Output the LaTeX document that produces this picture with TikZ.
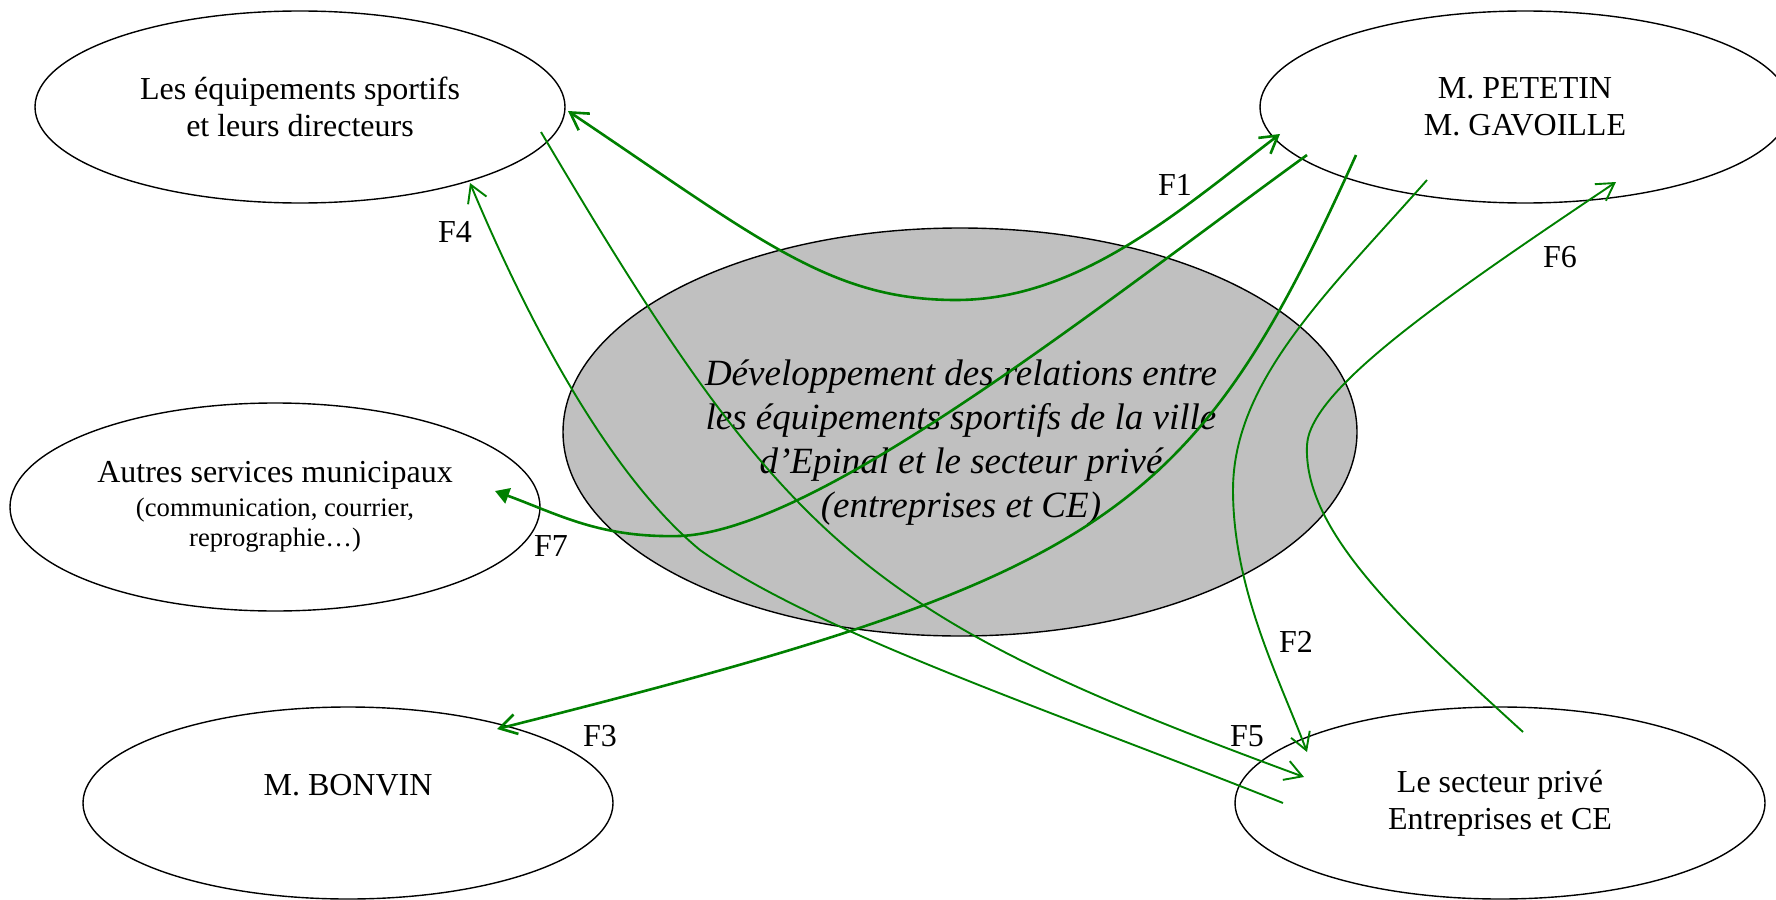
\documentclass[tikz,border=0pt]{standalone}
\usepackage{fontspec}
\setmainfont{Liberation Serif}
\usetikzlibrary{shapes.geometric,arrows.meta,calc}
\definecolor{flowgreen}{RGB}{0,128,0}
\definecolor{hubgray}{RGB}{192,192,192}
\newcommand{\smalltxt}{\fontsize{13.33}{15}\selectfont}
\begin{document}
\begin{tikzpicture}[x=0.5pt,y=-0.5pt,
  >={Straight Barb[length=8.5pt,width=10pt]},
  oval/.style={ellipse,draw=black,line width=0.7pt,inner sep=0pt,outer sep=0pt,
    minimum width=265pt,minimum height=96pt,align=center,
    font=\fontsize{16}{18.5}\selectfont},
  hubtext/.style={inner sep=0pt,align=center,font=\fontsize{18.5}{22}\selectfont\itshape},
  flow/.style={draw=flowgreen,line width=0.95pt},
  thickflow/.style={draw=flowgreen,line width=1.3pt},
  flabel/.style={inner sep=0pt,font=\fontsize{16}{18.5}\selectfont}
]
\useasboundingbox (0,0) rectangle (1776,899);

% ellipses
\node[oval] (e1) at (300,107) {Les équipements sportifs\\et leurs directeurs};
\node[oval] (e2) at (1525,107) {M. PETETIN\\M. GAVOILLE};
\node[oval,minimum height=104pt] (e3) at (275,507)
  {Autres services municipaux\\[-1.5pt]{\smalltxt (communication, courrier,}\\[-3.5pt]{\smalltxt reprographie…)}};
\node[oval] (e4) at (348,803) {M. BONVIN\\\mbox{}};
\node[oval] (e5) at (1500,803) {Le secteur privé\\Entreprises et CE};
\node[oval,fill=hubgray,minimum width=397pt,minimum height=204pt] (hub) at (960,432) {};
\node[hubtext] (hubt) at (961,443)
  {Développement des relations entre\\les équipements sportifs de la ville\\d’Epinal et le secteur privé\\(entreprises et CE)};

% connectors
% F1
\draw[thickflow,<->] ($(e1)+(268,4)$) .. controls (760,240) and (830,300) .. (956,300)
  .. controls (1080,300) and (1180,210) .. ($(e2)+(-245,27)$);
% F7
\draw[thickflow,-{Triangle[length=7pt,width=8pt]}] ($(e2)+(-218,48)$)
  .. controls (1100,305) and (820,530) .. (680,536)
  .. controls (600,538) and (560,515) .. ($(e3)+(220,-16)$);
% F3
\draw[thickflow,->] ($(e2)+(-169,48)$) .. controls (1192,519) and (1106,576) .. ($(e4)+(149,-74)$);
% F2
\draw[flow,->] ($(e2)+(-98,73)$) .. controls (1330,290) and (1233,380) .. (1233,490)
  .. controls (1233,590) and (1280,680) .. ($(e5)+(-193,-51)$);
% F6
\draw[flow,->] ($(e5)+(23,-71)$) .. controls (1400,620) and (1303,530) .. (1307,445)
  .. controls (1310,390) and (1440,300) .. ($(e2)+(91,75)$);
% F5
\draw[flow,->] ($(e1)+(241,25)$) .. controls (788,550) and (864,615) .. ($(e5)+(-196,-26)$);
% F4
\draw[flow,->] ($(e5)+(-217,0)$) .. controls (1050,710) and (815,632) .. (700,550)
  .. controls (620,484) and (540,350) .. ($(e1)+(170,76)$);

% labels
\node[flabel] (l1) at (1175,185) {F1};
\node[flabel] (l2) at (1296,642) {F2};
\node[flabel] (l3) at (600,736) {F3};
\node[flabel] (l4) at (455,232) {F4};
\node[flabel] (l5) at (1247,736) {F5};
\node[flabel] (l6) at (1560,257) {F6};
\node[flabel] (l7) at (551,546) {F7};
\end{tikzpicture}
\end{document}
